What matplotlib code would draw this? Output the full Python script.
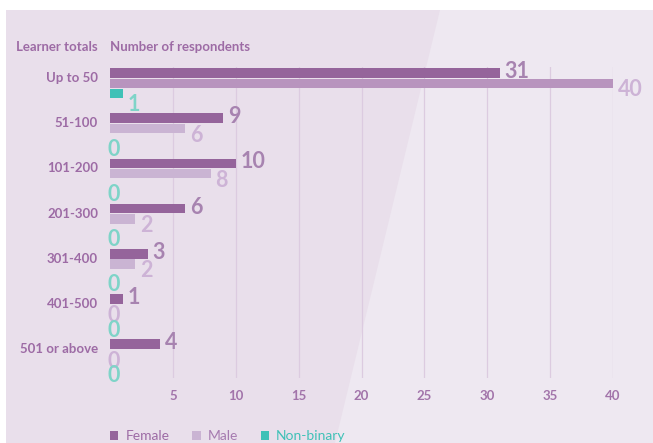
import numpy as np
import matplotlib
matplotlib.use("Agg")
import matplotlib.pyplot as plt
from matplotlib.patches import Polygon, Rectangle, Patch

# respondents by learner totals, split by gender
categories = ['Up to 50', '51-100', '101-200', '201-300', '301-400', '401-500', '501 or above']
female = [31, 9, 10, 6, 3, 1, 4]
male = [40, 6, 8, 2, 2, 0, 0]
non_binary = [1, 0, 0, 0, 0, 0, 0]
x_ticks = [5, 10, 15, 20, 25, 30, 35, 40]

c_female = '#95649b'
c_male = '#cab4d3'
c_male_hi = '#b894be'
c_nb = '#3fc1b7'
c_text = '#9d6ba5'
c_tick = '#a274aa'
c_lab_f = '#a783b0'
c_lab_m = '#cdb3d6'
c_lab_nb = '#7fd4c8'

plt.rcParams['font.family'] = ['Lato', 'DejaVu Sans']

W, H = 653, 443
fig = plt.figure(figsize=(W / 100, H / 100), dpi=100, facecolor='white')


def fx(px):
    return px / W


def fy(py):
    return 1 - py / H


# two-tone panel behind the chart
fig.patches.append(Rectangle((fx(6), 0), 1 - fx(6), fy(10), transform=fig.transFigure,
                             facecolor='#eee8f1', edgecolor='none', zorder=-10))
fig.patches.append(Polygon([(fx(6), fy(10)), (fx(440), fy(10)), (fx(335), fy(443)), (fx(6), fy(443))],
                           closed=True, transform=fig.transFigure,
                           facecolor='#e9dfeb', edgecolor='none', zorder=-9))

# axes: x from 110px to 613px, y from 67px to 378px
group_px = 45.2
ax = fig.add_axes([fx(110), fy(378), fx(613) - fx(110), fy(67) - fy(378)])
ax.patch.set_alpha(0)

n = len(categories)
idx = np.arange(n)
step = 10.3 / group_px
bh = 9.5 / group_px

male_colors = [c_male_hi] + [c_male] * (n - 1)
ax.barh(idx, female, height=bh, color=c_female, zorder=3)
ax.barh(idx + step, male, height=bh, color=male_colors, zorder=3)
ax.barh(idx + 2 * step, non_binary, height=bh, color=c_nb, zorder=3)

ax.set_xlim(0, 40)
ax.set_ylim((378 - 73) / group_px, -6 / group_px)

# value labels next to each bar
for series, off, dy, col in [(female, 0, -5, c_lab_f), (male, step, -13, c_lab_m),
                             (non_binary, 2 * step, -17, c_lab_nb)]:
    for i, v in enumerate(series):
        dx = 5 if v > 0 else -2
        ax.annotate(str(v), (v, i + off), xytext=(dx, dy), textcoords='offset pixels',
                    ha='left', va='baseline', fontsize=15.5, fontweight='bold',
                    color=col, zorder=4, annotation_clip=False)

ax.set_xticks(x_ticks)
ax.set_xticklabels([str(t) for t in x_ticks])
ax.grid(axis='x', color='#dccbe0', linewidth=0.9, zorder=0)
ax.set_yticks(idx + 4 / group_px)
ax.set_yticklabels(categories)
ax.tick_params(axis='both', length=0)
ax.tick_params(axis='x', pad=9, labelsize=9.5, labelcolor=c_tick)
ax.tick_params(axis='y', pad=8.6, labelsize=9.5, labelcolor=c_text)
for lab in ax.get_xticklabels() + ax.get_yticklabels():
    lab.set_fontweight('bold')
for s in ax.spines.values():
    s.set_visible(False)

fig.text(fx(16), fy(47), 'Learner totals', ha='left', va='center', fontsize=9.5,
         fontweight='bold', color=c_text)
fig.text(fx(110), fy(47), 'Number of respondents', ha='left', va='center', fontsize=9.5,
         fontweight='bold', color=c_text)

handles = [Patch(facecolor=c_female), Patch(facecolor=c_male), Patch(facecolor=c_nb)]
leg = fig.legend(handles, ['Female', 'Male', 'Non-binary'], loc='center left',
                 bbox_to_anchor=(fx(110), fy(436)), ncol=3, frameon=False,
                 fontsize=10, handlelength=0.6, handleheight=0.6, handletextpad=0.5,
                 columnspacing=1.65, borderpad=0, borderaxespad=0)
for t, c in zip(leg.get_texts(), [c_text, '#a67bb0', c_nb]):
    t.set_color(c)

fig.savefig('out.png', dpi=100, facecolor='white')
